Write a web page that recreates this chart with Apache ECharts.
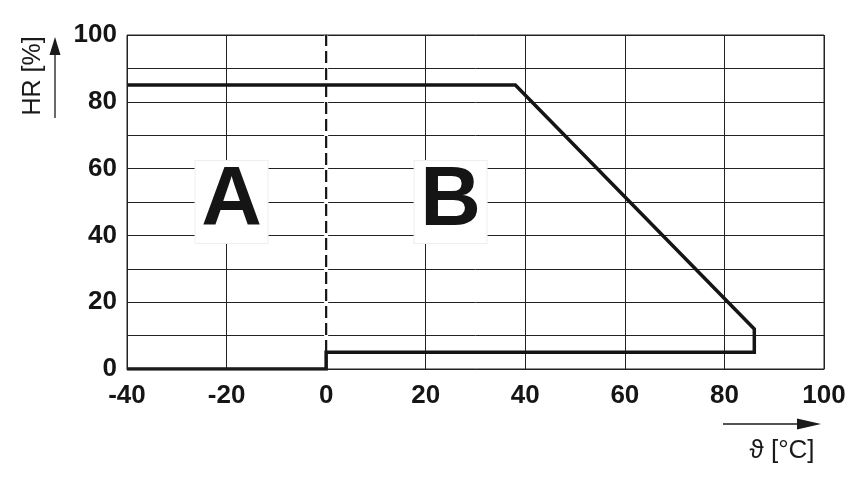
<!DOCTYPE html>
<html><head><meta charset="utf-8">
<script src="https://cdn.jsdelivr.net/npm/echarts@6/dist/echarts.min.js"></script>
<style>html,body{margin:0;padding:0;background:#fff}#c{width:865px;height:495px}</style>
</head><body><div id="c"></div>
<script>
// Boundary curve of the operating range (temperature °C, relative humidity %)
const curveX = [-40, 38, 86, 86, 0, 0, -40];
const curveY = [85, 85, 12, 5, 5, 0, 0];
// Dashed separator at 0 °C
const sepX = [0, 0];
const sepY = [0, 100];
// Region labels
const regionNames = ['A', 'B'];
const regionX = [-19, 25];
const regionY = [50, 50];
const xTicks = [-40, -20, 0, 20, 40, 60, 80, 100];
const yTicks = [0, 20, 40, 60, 80, 100];

const chart = echarts.init(document.getElementById('c'));
const lab = {fontFamily: 'Liberation Sans, Arial, sans-serif', fontWeight: 'bold', fontSize: 26, color: '#151515'};
const sepData = sepX.map((x, i) => [x, sepY[i]]);
chart.setOption({
  animation: false,
  grid: {left: 127, top: 35, width: 697, height: 334},
  xAxis: {
    type: 'value', min: -40, max: 100, interval: 20,
    axisLine: {show: true, lineStyle: {color: '#222', width: 1}},
    axisTick: {show: false},
    axisLabel: Object.assign({margin: 14, formatter: v => xTicks.includes(v) ? String(v) : ''}, lab),
    splitLine: {show: true, lineStyle: {color: '#222', width: 1}}
  },
  yAxis: {
    type: 'value', min: 0, max: 100, interval: 10,
    axisLine: {show: true, lineStyle: {color: '#222', width: 1}},
    axisTick: {show: false},
    axisLabel: Object.assign({margin: 10, formatter: v => yTicks.includes(v) ? String(v) : ''}, lab),
    splitLine: {show: true, lineStyle: {color: '#222', width: 1}}
  },
  graphic: [
    {type: 'rect', shape: {x: 127, y: 35, width: 697, height: 334}, style: {fill: 'none', stroke: '#222', lineWidth: 1}, z: 5},
    {type: 'text', x: 33, y: 76, rotation: Math.PI / 2, style: {text: 'HR [%]', fontFamily: 'Liberation Sans, Arial, sans-serif', fontSize: 25, fill: '#1a1a1a', align: 'center', verticalAlign: 'middle'}},
    {type: 'line', shape: {x1: 55, y1: 118, x2: 55, y2: 52}, style: {stroke: '#1a1a1a', lineWidth: 1.3}},
    {type: 'polygon', shape: {points: [[55, 37], [49.5, 55], [60.5, 55]]}, style: {fill: '#1a1a1a'}},
    {type: 'text', x: 782, y: 451, style: {text: 'ϑ [°C]', fontFamily: 'Liberation Sans, Arial, sans-serif', fontSize: 26, fill: '#1a1a1a', align: 'center', verticalAlign: 'middle'}},
    {type: 'line', shape: {x1: 723, y1: 424, x2: 805, y2: 424}, style: {stroke: '#1a1a1a', lineWidth: 1.3}},
    {type: 'polygon', shape: {points: [[821, 424], [797, 418.5], [797, 429.5]]}, style: {fill: '#1a1a1a'}}
  ],
  series: [
    {
      type: 'line', data: sepData, symbol: 'none', silent: true,
      lineStyle: {color: '#fff', width: 4}, z: 2
    },
    {
      type: 'line', data: sepData, symbol: 'none',
      lineStyle: {color: '#151515', width: 2.2, type: [12, 5]}, z: 3
    },
    {
      type: 'line', data: curveX.map((x, i) => [x, curveY[i]]), symbol: 'none',
      lineStyle: {color: '#151515', width: 3.5, join: 'miter'}, z: 4
    },
    {
      type: 'scatter', symbolSize: 0, z: 6,
      itemStyle: {opacity: 1},
      data: regionNames.map((n, i) => ({value: [regionX[i], regionY[i]], name: n})),
      label: {
        show: true, position: 'inside', formatter: p => p.name, opacity: 1,
        fontFamily: 'Liberation Sans, Arial, sans-serif', fontWeight: 'bold', fontSize: 84, color: '#151515',
        backgroundColor: '#fff', borderColor: '#eee', borderWidth: 1,
        width: 72, height: 82, lineHeight: 82, align: 'center', verticalAlign: 'middle'
      }
    }
  ]
});
</script></body></html>
